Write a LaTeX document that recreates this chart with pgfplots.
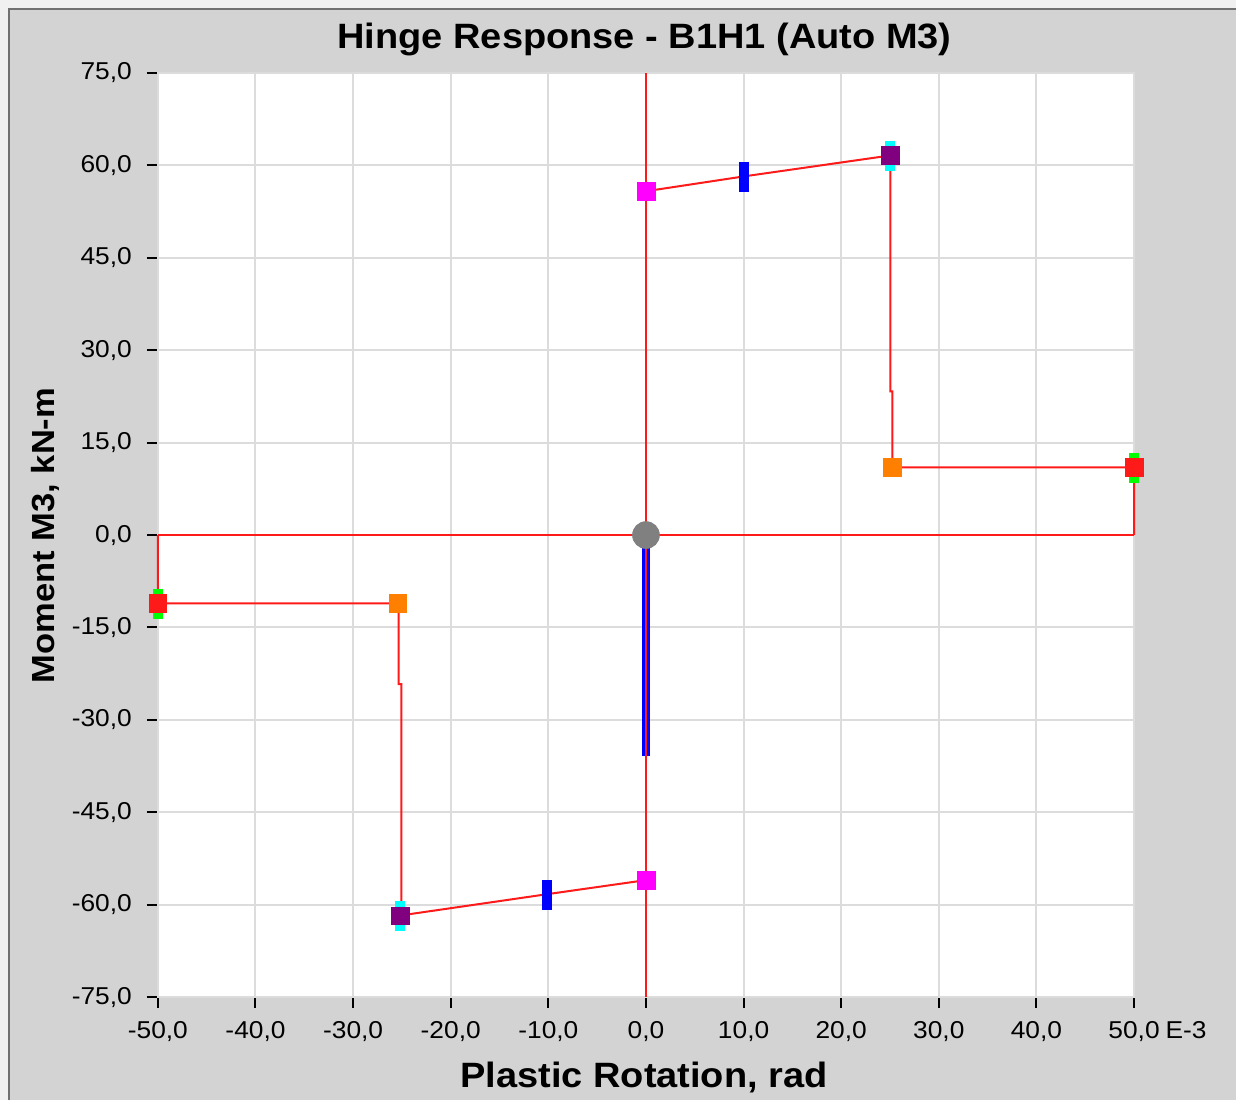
\documentclass[border=0pt]{standalone}
\usepackage{fontspec}
\setmainfont{Liberation Sans}[FakeStretch=1.08]
\usepackage{pgfplots}
\pgfplotsset{compat=1.18}
\definecolor{bg}{HTML}{D3D3D3}
\definecolor{strip}{HTML}{F0F0F0}
\definecolor{frame}{HTML}{707070}
\definecolor{gridc}{HTML}{DCDCDC}
\definecolor{hred}{HTML}{FF1A1A}
\definecolor{hmag}{HTML}{FF00FF}
\definecolor{hblue}{HTML}{0000FF}
\definecolor{hpurple}{HTML}{800080}
\definecolor{hcyan}{HTML}{00FFFF}
\definecolor{horange}{HTML}{FF8000}
\definecolor{hgreen}{HTML}{00FF00}
\definecolor{hgray}{HTML}{808080}

\begin{document}
\begin{tikzpicture}
% background in pixel units
\begin{scope}[x=0.5pt,y=-0.5pt,yshift=550.5pt]
\fill[strip] (0,0) rectangle (1237,1101);
\fill[bg] (10,10) rectangle (1237,1101);
\draw[frame, line width=1pt] (9,1101) -- (9,9) -- (1237,9);
\node[font=\fontsize{12.2}{14}\selectfont] at (1187,1031) {E-3};
\end{scope}

\begin{axis}[
    at={(79pt,51.5pt)}, anchor=south west,
    scale only axis,
    width=488.5pt, height=462.5pt,
    xmin=-50, xmax=50, ymin=-75, ymax=75,
    xtick={-50,-40,...,50},
    ytick={-75,-60,...,75},
    grid=major,
    major grid style={gridc, line width=1pt},
    axis line style={gridc, line width=1pt},
    tick pos=left,
    tick align=outside,
    major tick length=5.5pt,
    tick style={black, line width=1pt},
    axis background/.style={fill=white},
    clip=false,
    ticklabel style={font=\fontsize{12.2}{14}\selectfont},
    xticklabel style={yshift=-3pt},
    yticklabel style={xshift=-4pt},
    /pgf/number format/.cd, fixed, fixed zerofill, precision=1, use comma, assume math mode=true,
    /pgfplots/.cd,
    title={Hinge Response - B1H1 (Auto M3)},
    title style={at={(axis description cs:0.4985,1.0227)}, anchor=center,
        font=\bfseries\fontsize{17.6}{20}\selectfont},
    xlabel={Plastic Rotation, rad},
    xlabel style={at={(axis description cs:0.498,-0.0865)}, anchor=center,
        font=\bfseries\fontsize{17.6}{20}\selectfont},
    ylabel={Moment M3, kN-m},
    ylabel style={at={(axis description cs:-0.1157,0.4995)}, anchor=center,
        font=\bfseries\fontsize{16}{18}\selectfont},
]
% blue bar along the axis
\addplot[hblue, line width=3.6pt, forget plot] coordinates {(0,-1) (0,-35.8)};

% red response path
\addplot[hred, line width=1pt] coordinates {(0,-75) (0,75)};
\addplot[hred, line width=1pt] coordinates {(-50,0) (50,0)};
\addplot[hred, line width=1pt] coordinates {
    (0,55.8) (10,58.2) (25.0,61.6) (25.03,61.6) (25.03,23.3)
    (25.25,23.3) (25.25,11.0) (50,11.0) (50,0)};
\addplot[hred, line width=1pt] coordinates {
    (0,-56.0) (-10.2,-58.3) (-25.2,-61.75) (-25.06,-61.75) (-25.06,-24.2)
    (-25.35,-24.2) (-25.35,-11.1) (-50,-11.1) (-50,0)};

% tall rectangles behind the end markers
\addplot[only marks, mark=square*, mark size=4.5pt,
    mark options={fill=hcyan, draw=hcyan, line width=0.1pt, xscale=0.5, yscale=1.6}]
    coordinates {(25.0,61.6) (-25.2,-61.75)};
\addplot[only marks, mark=square*, mark size=4.5pt,
    mark options={fill=hgreen, draw=hgreen, line width=0.1pt, xscale=0.5, yscale=1.6}]
    coordinates {(50,11.0) (-50,-11.1)};

% square markers
\addplot[only marks, mark=square*, mark size=4.4pt,
    mark options={fill=hmag, draw=hmag, line width=0.2pt}]
    coordinates {(0,55.8) (0,-56.0)};
\addplot[only marks, mark=square*, mark size=4.5pt,
    mark options={fill=hblue, draw=hblue, line width=0.1pt, xscale=0.5, yscale=1.6}]
    coordinates {(10,58.2) (-10.2,-58.3)};
\addplot[only marks, mark=square*, mark size=4.4pt,
    mark options={fill=hpurple, draw=hpurple, line width=0.2pt}]
    coordinates {(25.0,61.6) (-25.2,-61.75)};
\addplot[only marks, mark=square*, mark size=4.4pt,
    mark options={fill=horange, draw=horange, line width=0.2pt}]
    coordinates {(25.22,11.0) (-25.45,-11.1)};
\addplot[only marks, mark=square*, mark size=4.4pt,
    mark options={fill=hred, draw=hred, line width=0.2pt}]
    coordinates {(50,11.0) (-50,-11.1)};

% origin marker
\addplot[only marks, mark=*, mark size=6.7pt,
    mark options={fill=hgray, draw=hgray}]
    coordinates {(0,0)};
\end{axis}
\end{tikzpicture}
\end{document}
